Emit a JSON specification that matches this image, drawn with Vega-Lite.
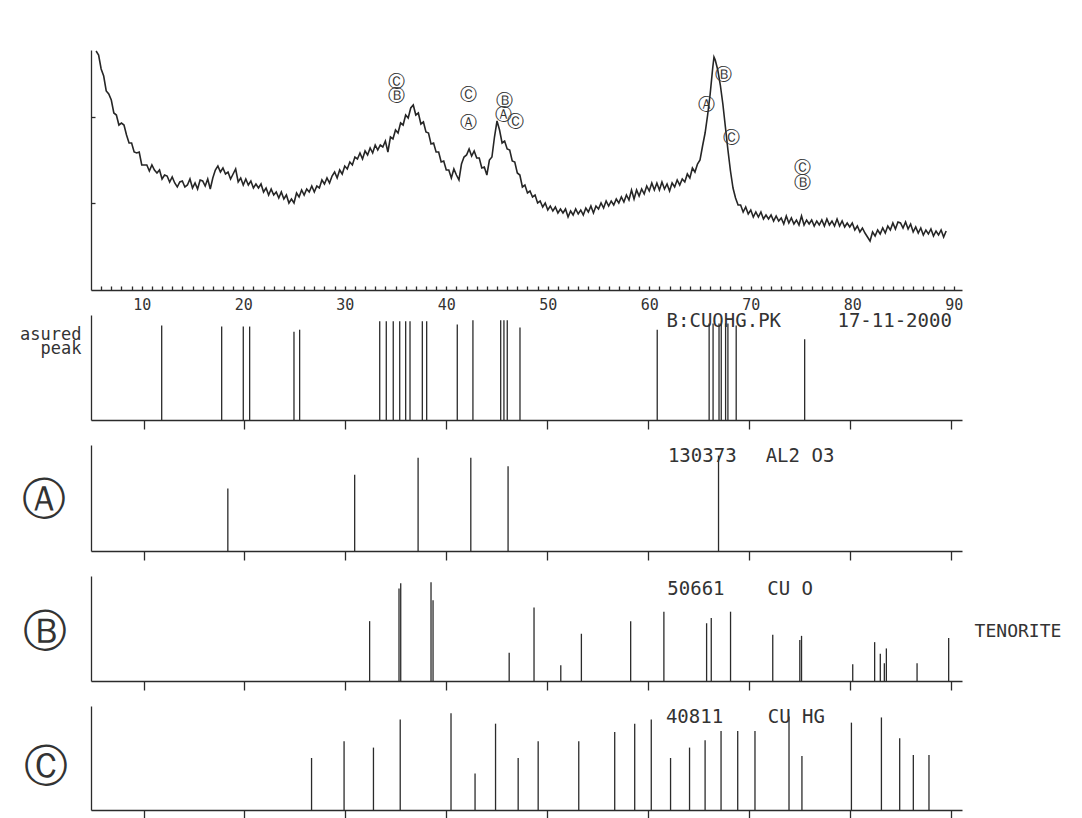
{
  "$schema": "https://vega.github.io/schema/vega-lite/v6.json",
  "background": "white",
  "padding": {"left": 19, "top": 50, "right": 0, "bottom": 0},
  "bounds": "flush",
  "spacing": 25,
  "config": {
    "view": {"stroke": null},
    "axis": {
      "grid": false,
      "domainColor": "#2b2b2b",
      "domainWidth": 1.3,
      "tickColor": "#2b2b2b",
      "tickWidth": 1.3,
      "labelColor": "#333333",
      "titleColor": "#333333",
      "labelFont": "DejaVu Sans Mono",
      "titleFont": "DejaVu Sans Mono",
      "titleFontWeight": "normal"
    }
  },
  "datasets": {
    "scan": [
      {"two_theta": 5.5, "intensity": 239}, {"two_theta": 5.75, "intensity": 235}, {"two_theta": 6, "intensity": 221}, {"two_theta": 6.25, "intensity": 214},
      {"two_theta": 6.5, "intensity": 199}, {"two_theta": 6.75, "intensity": 196}, {"two_theta": 7, "intensity": 190}, {"two_theta": 7.25, "intensity": 177},
      {"two_theta": 7.5, "intensity": 175}, {"two_theta": 7.75, "intensity": 165}, {"two_theta": 8, "intensity": 167}, {"two_theta": 8.25, "intensity": 165},
      {"two_theta": 8.5, "intensity": 155}, {"two_theta": 8.75, "intensity": 147}, {"two_theta": 9, "intensity": 147}, {"two_theta": 9.25, "intensity": 138},
      {"two_theta": 9.5, "intensity": 137}, {"two_theta": 9.75, "intensity": 138}, {"two_theta": 10, "intensity": 125}, {"two_theta": 10.25, "intensity": 125},
      {"two_theta": 10.5, "intensity": 125}, {"two_theta": 10.75, "intensity": 119}, {"two_theta": 11, "intensity": 125}, {"two_theta": 11.25, "intensity": 120},
      {"two_theta": 11.5, "intensity": 117}, {"two_theta": 11.75, "intensity": 120}, {"two_theta": 12, "intensity": 111}, {"two_theta": 12.25, "intensity": 115},
      {"two_theta": 12.5, "intensity": 114}, {"two_theta": 12.75, "intensity": 108}, {"two_theta": 13, "intensity": 113}, {"two_theta": 13.25, "intensity": 107},
      {"two_theta": 13.5, "intensity": 103}, {"two_theta": 13.75, "intensity": 108}, {"two_theta": 14, "intensity": 109}, {"two_theta": 14.25, "intensity": 103},
      {"two_theta": 14.5, "intensity": 105}, {"two_theta": 14.75, "intensity": 111}, {"two_theta": 15, "intensity": 102}, {"two_theta": 15.25, "intensity": 107},
      {"two_theta": 15.5, "intensity": 101}, {"two_theta": 15.75, "intensity": 110}, {"two_theta": 16, "intensity": 109}, {"two_theta": 16.25, "intensity": 104},
      {"two_theta": 16.5, "intensity": 111}, {"two_theta": 16.75, "intensity": 101}, {"two_theta": 17, "intensity": 112}, {"two_theta": 17.25, "intensity": 120},
      {"two_theta": 17.5, "intensity": 124}, {"two_theta": 17.75, "intensity": 118}, {"two_theta": 18, "intensity": 122}, {"two_theta": 18.25, "intensity": 116},
      {"two_theta": 18.5, "intensity": 118}, {"two_theta": 18.75, "intensity": 111}, {"two_theta": 19, "intensity": 116}, {"two_theta": 19.25, "intensity": 121},
      {"two_theta": 19.5, "intensity": 108}, {"two_theta": 19.75, "intensity": 112}, {"two_theta": 20, "intensity": 105}, {"two_theta": 20.25, "intensity": 111},
      {"two_theta": 20.5, "intensity": 105}, {"two_theta": 20.75, "intensity": 109}, {"two_theta": 21, "intensity": 102}, {"two_theta": 21.25, "intensity": 106},
      {"two_theta": 21.5, "intensity": 102}, {"two_theta": 21.75, "intensity": 106}, {"two_theta": 22, "intensity": 98}, {"two_theta": 22.25, "intensity": 102},
      {"two_theta": 22.5, "intensity": 95}, {"two_theta": 22.75, "intensity": 101}, {"two_theta": 23, "intensity": 95}, {"two_theta": 23.25, "intensity": 98},
      {"two_theta": 23.5, "intensity": 92}, {"two_theta": 23.75, "intensity": 98}, {"two_theta": 24, "intensity": 91}, {"two_theta": 24.25, "intensity": 95},
      {"two_theta": 24.5, "intensity": 87}, {"two_theta": 24.75, "intensity": 91}, {"two_theta": 25, "intensity": 87}, {"two_theta": 25.25, "intensity": 97},
      {"two_theta": 25.5, "intensity": 93}, {"two_theta": 25.75, "intensity": 100}, {"two_theta": 26, "intensity": 95}, {"two_theta": 26.25, "intensity": 101},
      {"two_theta": 26.5, "intensity": 98}, {"two_theta": 26.75, "intensity": 104}, {"two_theta": 27, "intensity": 98}, {"two_theta": 27.25, "intensity": 104},
      {"two_theta": 27.5, "intensity": 102}, {"two_theta": 27.75, "intensity": 110}, {"two_theta": 28, "intensity": 106}, {"two_theta": 28.25, "intensity": 112},
      {"two_theta": 28.5, "intensity": 107}, {"two_theta": 28.75, "intensity": 114}, {"two_theta": 29, "intensity": 118}, {"two_theta": 29.25, "intensity": 112},
      {"two_theta": 29.5, "intensity": 120}, {"two_theta": 29.75, "intensity": 116}, {"two_theta": 30, "intensity": 124}, {"two_theta": 30.25, "intensity": 121},
      {"two_theta": 30.5, "intensity": 128}, {"two_theta": 30.75, "intensity": 125}, {"two_theta": 31, "intensity": 133}, {"two_theta": 31.25, "intensity": 131},
      {"two_theta": 31.5, "intensity": 137}, {"two_theta": 31.75, "intensity": 131}, {"two_theta": 32, "intensity": 139}, {"two_theta": 32.25, "intensity": 135},
      {"two_theta": 32.5, "intensity": 142}, {"two_theta": 32.75, "intensity": 137}, {"two_theta": 33, "intensity": 145}, {"two_theta": 33.25, "intensity": 140},
      {"two_theta": 33.5, "intensity": 145}, {"two_theta": 33.75, "intensity": 143}, {"two_theta": 34, "intensity": 149}, {"two_theta": 34.25, "intensity": 138},
      {"two_theta": 34.5, "intensity": 153}, {"two_theta": 34.75, "intensity": 151}, {"two_theta": 35, "intensity": 160}, {"two_theta": 35.25, "intensity": 157},
      {"two_theta": 35.5, "intensity": 167}, {"two_theta": 35.75, "intensity": 165}, {"two_theta": 36, "intensity": 175}, {"two_theta": 36.25, "intensity": 172},
      {"two_theta": 36.5, "intensity": 182}, {"two_theta": 36.75, "intensity": 185}, {"two_theta": 37, "intensity": 175}, {"two_theta": 37.25, "intensity": 177},
      {"two_theta": 37.5, "intensity": 166}, {"two_theta": 37.75, "intensity": 168}, {"two_theta": 38, "intensity": 158}, {"two_theta": 38.25, "intensity": 157},
      {"two_theta": 38.5, "intensity": 146}, {"two_theta": 38.75, "intensity": 147}, {"two_theta": 39, "intensity": 138}, {"two_theta": 39.25, "intensity": 138},
      {"two_theta": 39.5, "intensity": 128}, {"two_theta": 39.75, "intensity": 129}, {"two_theta": 40, "intensity": 120}, {"two_theta": 40.25, "intensity": 120},
      {"two_theta": 40.5, "intensity": 112}, {"two_theta": 40.75, "intensity": 121}, {"two_theta": 41, "intensity": 115}, {"two_theta": 41.25, "intensity": 110},
      {"two_theta": 41.5, "intensity": 126}, {"two_theta": 41.75, "intensity": 133}, {"two_theta": 42, "intensity": 135}, {"two_theta": 42.25, "intensity": 141},
      {"two_theta": 42.5, "intensity": 134}, {"two_theta": 42.75, "intensity": 139}, {"two_theta": 43, "intensity": 132}, {"two_theta": 43.25, "intensity": 132},
      {"two_theta": 43.5, "intensity": 122}, {"two_theta": 43.75, "intensity": 123}, {"two_theta": 44, "intensity": 115}, {"two_theta": 44.25, "intensity": 130},
      {"two_theta": 44.5, "intensity": 133}, {"two_theta": 44.75, "intensity": 153}, {"two_theta": 45, "intensity": 169}, {"two_theta": 45.25, "intensity": 160},
      {"two_theta": 45.5, "intensity": 147}, {"two_theta": 45.75, "intensity": 149}, {"two_theta": 46, "intensity": 141}, {"two_theta": 46.25, "intensity": 140},
      {"two_theta": 46.5, "intensity": 129}, {"two_theta": 46.75, "intensity": 128}, {"two_theta": 47, "intensity": 117}, {"two_theta": 47.25, "intensity": 115},
      {"two_theta": 47.5, "intensity": 103}, {"two_theta": 47.75, "intensity": 105}, {"two_theta": 48, "intensity": 97}, {"two_theta": 48.25, "intensity": 99},
      {"two_theta": 48.5, "intensity": 93}, {"two_theta": 48.75, "intensity": 95}, {"two_theta": 49, "intensity": 87}, {"two_theta": 49.25, "intensity": 89},
      {"two_theta": 49.5, "intensity": 83}, {"two_theta": 49.75, "intensity": 87}, {"two_theta": 50, "intensity": 80}, {"two_theta": 50.25, "intensity": 84},
      {"two_theta": 50.5, "intensity": 79}, {"two_theta": 50.75, "intensity": 83}, {"two_theta": 51, "intensity": 77}, {"two_theta": 51.25, "intensity": 81},
      {"two_theta": 51.5, "intensity": 77}, {"two_theta": 51.75, "intensity": 81}, {"two_theta": 52, "intensity": 73}, {"two_theta": 52.25, "intensity": 79},
      {"two_theta": 52.5, "intensity": 75}, {"two_theta": 52.75, "intensity": 81}, {"two_theta": 53, "intensity": 76}, {"two_theta": 53.25, "intensity": 80},
      {"two_theta": 53.5, "intensity": 75}, {"two_theta": 53.75, "intensity": 82}, {"two_theta": 54, "intensity": 78}, {"two_theta": 54.25, "intensity": 84},
      {"two_theta": 54.5, "intensity": 77}, {"two_theta": 54.75, "intensity": 84}, {"two_theta": 55, "intensity": 81}, {"two_theta": 55.25, "intensity": 87},
      {"two_theta": 55.5, "intensity": 82}, {"two_theta": 55.75, "intensity": 89}, {"two_theta": 56, "intensity": 84}, {"two_theta": 56.25, "intensity": 89},
      {"two_theta": 56.5, "intensity": 85}, {"two_theta": 56.75, "intensity": 91}, {"two_theta": 57, "intensity": 87}, {"two_theta": 57.25, "intensity": 93},
      {"two_theta": 57.5, "intensity": 88}, {"two_theta": 57.75, "intensity": 95}, {"two_theta": 58, "intensity": 90}, {"two_theta": 58.25, "intensity": 100},
      {"two_theta": 58.5, "intensity": 91}, {"two_theta": 58.75, "intensity": 100}, {"two_theta": 59, "intensity": 94}, {"two_theta": 59.25, "intensity": 101},
      {"two_theta": 59.5, "intensity": 96}, {"two_theta": 59.75, "intensity": 104}, {"two_theta": 60, "intensity": 99}, {"two_theta": 60.25, "intensity": 107},
      {"two_theta": 60.5, "intensity": 100}, {"two_theta": 60.75, "intensity": 107}, {"two_theta": 61, "intensity": 100}, {"two_theta": 61.25, "intensity": 108},
      {"two_theta": 61.5, "intensity": 101}, {"two_theta": 61.75, "intensity": 106}, {"two_theta": 62, "intensity": 99}, {"two_theta": 62.25, "intensity": 107},
      {"two_theta": 62.5, "intensity": 103}, {"two_theta": 62.75, "intensity": 110}, {"two_theta": 63, "intensity": 105}, {"two_theta": 63.25, "intensity": 111},
      {"two_theta": 63.5, "intensity": 108}, {"two_theta": 63.75, "intensity": 116}, {"two_theta": 64, "intensity": 112}, {"two_theta": 64.25, "intensity": 122},
      {"two_theta": 64.5, "intensity": 118}, {"two_theta": 64.75, "intensity": 126}, {"two_theta": 65, "intensity": 130}, {"two_theta": 65.25, "intensity": 144},
      {"two_theta": 65.5, "intensity": 157}, {"two_theta": 65.75, "intensity": 175}, {"two_theta": 66, "intensity": 196}, {"two_theta": 66.25, "intensity": 222},
      {"two_theta": 66.375, "intensity": 233}, {"two_theta": 66.5, "intensity": 230}, {"two_theta": 66.75, "intensity": 220}, {"two_theta": 67, "intensity": 205},
      {"two_theta": 67.25, "intensity": 186}, {"two_theta": 67.5, "intensity": 163}, {"two_theta": 67.75, "intensity": 140}, {"two_theta": 68, "intensity": 119},
      {"two_theta": 68.25, "intensity": 102}, {"two_theta": 68.5, "intensity": 92}, {"two_theta": 68.75, "intensity": 85}, {"two_theta": 69, "intensity": 85},
      {"two_theta": 69.25, "intensity": 78}, {"two_theta": 69.5, "intensity": 83}, {"two_theta": 69.75, "intensity": 76}, {"two_theta": 70, "intensity": 80},
      {"two_theta": 70.25, "intensity": 73}, {"two_theta": 70.5, "intensity": 78}, {"two_theta": 70.75, "intensity": 73}, {"two_theta": 71, "intensity": 78},
      {"two_theta": 71.25, "intensity": 71}, {"two_theta": 71.5, "intensity": 75}, {"two_theta": 71.75, "intensity": 71}, {"two_theta": 72, "intensity": 75},
      {"two_theta": 72.25, "intensity": 69}, {"two_theta": 72.5, "intensity": 74}, {"two_theta": 72.75, "intensity": 69}, {"two_theta": 73, "intensity": 72},
      {"two_theta": 73.25, "intensity": 66}, {"two_theta": 73.5, "intensity": 74}, {"two_theta": 73.75, "intensity": 67}, {"two_theta": 74, "intensity": 72},
      {"two_theta": 74.25, "intensity": 66}, {"two_theta": 74.5, "intensity": 70}, {"two_theta": 74.75, "intensity": 65}, {"two_theta": 75, "intensity": 74},
      {"two_theta": 75.25, "intensity": 65}, {"two_theta": 75.5, "intensity": 70}, {"two_theta": 75.75, "intensity": 66}, {"two_theta": 76, "intensity": 70},
      {"two_theta": 76.25, "intensity": 64}, {"two_theta": 76.5, "intensity": 69}, {"two_theta": 76.75, "intensity": 65}, {"two_theta": 77, "intensity": 70},
      {"two_theta": 77.25, "intensity": 64}, {"two_theta": 77.5, "intensity": 71}, {"two_theta": 77.75, "intensity": 65}, {"two_theta": 78, "intensity": 69},
      {"two_theta": 78.25, "intensity": 64}, {"two_theta": 78.5, "intensity": 71}, {"two_theta": 78.75, "intensity": 64}, {"two_theta": 79, "intensity": 69},
      {"two_theta": 79.25, "intensity": 63}, {"two_theta": 79.5, "intensity": 67}, {"two_theta": 79.75, "intensity": 63}, {"two_theta": 80, "intensity": 67},
      {"two_theta": 80.25, "intensity": 60}, {"two_theta": 80.5, "intensity": 64}, {"two_theta": 80.75, "intensity": 58}, {"two_theta": 81, "intensity": 62},
      {"two_theta": 81.25, "intensity": 57}, {"two_theta": 81.5, "intensity": 53}, {"two_theta": 81.75, "intensity": 49}, {"two_theta": 82, "intensity": 58},
      {"two_theta": 82.25, "intensity": 54}, {"two_theta": 82.5, "intensity": 60}, {"two_theta": 82.75, "intensity": 56}, {"two_theta": 83, "intensity": 62},
      {"two_theta": 83.25, "intensity": 57}, {"two_theta": 83.5, "intensity": 64}, {"two_theta": 83.75, "intensity": 60}, {"two_theta": 84, "intensity": 67},
      {"two_theta": 84.25, "intensity": 61}, {"two_theta": 84.5, "intensity": 68}, {"two_theta": 84.75, "intensity": 67}, {"two_theta": 85, "intensity": 62},
      {"two_theta": 85.25, "intensity": 68}, {"two_theta": 85.5, "intensity": 61}, {"two_theta": 85.75, "intensity": 66}, {"two_theta": 86, "intensity": 58},
      {"two_theta": 86.25, "intensity": 63}, {"two_theta": 86.5, "intensity": 57}, {"two_theta": 86.75, "intensity": 62}, {"two_theta": 87, "intensity": 55},
      {"two_theta": 87.25, "intensity": 60}, {"two_theta": 87.5, "intensity": 56}, {"two_theta": 87.75, "intensity": 61}, {"two_theta": 88, "intensity": 54},
      {"two_theta": 88.25, "intensity": 59}, {"two_theta": 88.5, "intensity": 55}, {"two_theta": 88.75, "intensity": 60}, {"two_theta": 89, "intensity": 53},
      {"two_theta": 89.25, "intensity": 59}
    ],
    "phase_marks": [
      {"two_theta": 35.05, "intensity": 208, "label": "Ⓒ"},
      {"two_theta": 35.05, "intensity": 194, "label": "Ⓑ"},
      {"two_theta": 42.24, "intensity": 195, "label": "Ⓒ"},
      {"two_theta": 42.24, "intensity": 167, "label": "Ⓐ"},
      {"two_theta": 45.69, "intensity": 189, "label": "Ⓑ"},
      {"two_theta": 45.59, "intensity": 175, "label": "Ⓐ"},
      {"two_theta": 46.87, "intensity": 168, "label": "Ⓒ"},
      {"two_theta": 65.59, "intensity": 185, "label": "Ⓐ"},
      {"two_theta": 67.27, "intensity": 215, "label": "Ⓑ"},
      {"two_theta": 68.15, "intensity": 152, "label": "Ⓒ"},
      {"two_theta": 75.05, "intensity": 122, "label": "Ⓒ"},
      {"two_theta": 75.05, "intensity": 107, "label": "Ⓑ"}
    ],
    "peaks": [
      {"panel": "measured", "two_theta": 11.8, "rel": 90}, {"panel": "measured", "two_theta": 17.74, "rel": 89},
      {"panel": "measured", "two_theta": 19.88, "rel": 89}, {"panel": "measured", "two_theta": 20.51, "rel": 89},
      {"panel": "measured", "two_theta": 24.9, "rel": 84}, {"panel": "measured", "two_theta": 25.46, "rel": 86},
      {"panel": "measured", "two_theta": 33.39, "rel": 94}, {"panel": "measured", "two_theta": 34.04, "rel": 94},
      {"panel": "measured", "two_theta": 34.73, "rel": 94}, {"panel": "measured", "two_theta": 35.37, "rel": 94},
      {"panel": "measured", "two_theta": 35.96, "rel": 94}, {"panel": "measured", "two_theta": 36.39, "rel": 94},
      {"panel": "measured", "two_theta": 37.61, "rel": 94}, {"panel": "measured", "two_theta": 38.04, "rel": 94},
      {"panel": "measured", "two_theta": 41.07, "rel": 91}, {"panel": "measured", "two_theta": 42.62, "rel": 95},
      {"panel": "measured", "two_theta": 45.37, "rel": 95}, {"panel": "measured", "two_theta": 45.69, "rel": 95},
      {"panel": "measured", "two_theta": 46.02, "rel": 95}, {"panel": "measured", "two_theta": 47.28, "rel": 88},
      {"panel": "measured", "two_theta": 60.87, "rel": 86}, {"panel": "measured", "two_theta": 66.01, "rel": 92},
      {"panel": "measured", "two_theta": 66.4, "rel": 92}, {"panel": "measured", "two_theta": 66.99, "rel": 92},
      {"panel": "measured", "two_theta": 67.21, "rel": 92}, {"panel": "measured", "two_theta": 67.64, "rel": 92},
      {"panel": "measured", "two_theta": 67.87, "rel": 92}, {"panel": "measured", "two_theta": 68.69, "rel": 90},
      {"panel": "measured", "two_theta": 75.47, "rel": 77},
      {"panel": "A", "two_theta": 18.35, "rel": 59}, {"panel": "A", "two_theta": 30.91, "rel": 72},
      {"panel": "A", "two_theta": 37.19, "rel": 88}, {"panel": "A", "two_theta": 42.41, "rel": 88},
      {"panel": "A", "two_theta": 46.1, "rel": 80}, {"panel": "A", "two_theta": 66.94, "rel": 90},
      {"panel": "B", "two_theta": 32.39, "rel": 57}, {"panel": "B", "two_theta": 35.3, "rel": 88},
      {"panel": "B", "two_theta": 35.47, "rel": 93}, {"panel": "B", "two_theta": 38.47, "rel": 94},
      {"panel": "B", "two_theta": 38.67, "rel": 77}, {"panel": "B", "two_theta": 46.21, "rel": 27},
      {"panel": "B", "two_theta": 48.67, "rel": 70}, {"panel": "B", "two_theta": 51.32, "rel": 15},
      {"panel": "B", "two_theta": 53.36, "rel": 45}, {"panel": "B", "two_theta": 58.24, "rel": 57},
      {"panel": "B", "two_theta": 61.53, "rel": 66}, {"panel": "B", "two_theta": 65.76, "rel": 55},
      {"panel": "B", "two_theta": 66.22, "rel": 60}, {"panel": "B", "two_theta": 68.13, "rel": 66},
      {"panel": "B", "two_theta": 72.31, "rel": 44}, {"panel": "B", "two_theta": 74.99, "rel": 39},
      {"panel": "B", "two_theta": 75.16, "rel": 43}, {"panel": "B", "two_theta": 80.23, "rel": 16},
      {"panel": "B", "two_theta": 82.4, "rel": 37}, {"panel": "B", "two_theta": 82.96, "rel": 26},
      {"panel": "B", "two_theta": 83.36, "rel": 17}, {"panel": "B", "two_theta": 83.56, "rel": 31},
      {"panel": "B", "two_theta": 86.6, "rel": 17}, {"panel": "B", "two_theta": 89.73, "rel": 41},
      {"panel": "C", "two_theta": 26.64, "rel": 50}, {"panel": "C", "two_theta": 29.86, "rel": 66},
      {"panel": "C", "two_theta": 32.77, "rel": 60}, {"panel": "C", "two_theta": 35.42, "rel": 87},
      {"panel": "C", "two_theta": 40.45, "rel": 93}, {"panel": "C", "two_theta": 42.83, "rel": 35},
      {"panel": "C", "two_theta": 44.86, "rel": 83}, {"panel": "C", "two_theta": 47.1, "rel": 50},
      {"panel": "C", "two_theta": 49.08, "rel": 66}, {"panel": "C", "two_theta": 53.1, "rel": 66},
      {"panel": "C", "two_theta": 56.66, "rel": 75}, {"panel": "C", "two_theta": 58.64, "rel": 83},
      {"panel": "C", "two_theta": 60.28, "rel": 87}, {"panel": "C", "two_theta": 62.19, "rel": 50},
      {"panel": "C", "two_theta": 64.07, "rel": 60}, {"panel": "C", "two_theta": 65.61, "rel": 67},
      {"panel": "C", "two_theta": 67.19, "rel": 76}, {"panel": "C", "two_theta": 68.84, "rel": 76},
      {"panel": "C", "two_theta": 70.55, "rel": 76}, {"panel": "C", "two_theta": 73.92, "rel": 90},
      {"panel": "C", "two_theta": 75.2, "rel": 52}, {"panel": "C", "two_theta": 80.1, "rel": 84},
      {"panel": "C", "two_theta": 83.07, "rel": 89}, {"panel": "C", "two_theta": 84.88, "rel": 69},
      {"panel": "C", "two_theta": 86.23, "rel": 53}, {"panel": "C", "two_theta": 87.78, "rel": 53}
    ],
    "captions": [
      {"panel": "measured", "two_theta": 61.8, "label": "B:CUOHG.PK"},
      {"panel": "measured", "two_theta": 78.72, "label": "17-11-2000"},
      {"panel": "A", "two_theta": 61.93, "label": "130373"},
      {"panel": "A", "two_theta": 71.61, "label": "AL2 O3"},
      {"panel": "B", "two_theta": 61.87, "label": "50661"},
      {"panel": "B", "two_theta": 71.76, "label": "CU O"},
      {"panel": "C", "two_theta": 61.73, "label": "40811"},
      {"panel": "C", "two_theta": 71.81, "label": "CU HG"}
    ],
    "phase_names": [
      {"panel": "B", "two_theta": 92.3, "rel": 47, "label": "TENORITE"}
    ]
  },
  "vconcat": [
    {
      "width": 871,
      "height": 240,
      "resolve": {"axis": {"x": "independent", "y": "independent"}},
      "layer": [
        {
          "data": {"name": "scan"},
          "mark": {"type": "line", "color": "#262626", "strokeWidth": 1.6, "clip": true},
          "encoding": {
            "x": {
              "field": "two_theta", "type": "quantitative",
              "scale": {"domain": [5, 90.81], "nice": false, "zero": false},
              "axis": {
                "orient": "bottom",
                "title": null,
                "values": [6, 7, 8, 9, 10, 11, 12, 13, 14, 15, 16, 17, 18, 19, 20, 21, 22, 23, 24, 25, 26, 27, 28, 29, 30, 31, 32, 33, 34, 35, 36, 37, 38, 39, 40, 41, 42, 43, 44, 45, 46, 47, 48, 49, 50, 51, 52, 53, 54, 55, 56, 57, 58, 59, 60, 61, 62, 63, 64, 65, 66, 67, 68, 69, 70, 71, 72, 73, 74, 75, 76, 77, 78, 79, 80, 81, 82, 83, 84, 85, 86, 87, 88, 89, 90],
                "labels": false,
                "domain": false,
                "tickSize": 4,
                "offset": -4
              }
            },
            "y": {
              "field": "intensity", "type": "quantitative",
              "scale": {"domain": [0, 240], "nice": false},
              "axis": {"orient": "left", "title": null, "labels": false, "ticks": false}
            }
          }
        },
        {
          "data": {"name": "phase_marks"},
          "mark": {"type": "text", "font": "DejaVu Sans", "fontSize": 17, "color": "#333333", "baseline": "middle"},
          "encoding": {
            "x": {
              "field": "two_theta", "type": "quantitative",
              "axis": {
                "orient": "bottom",
                "title": null,
                "values": [10, 20, 30, 40, 50, 60, 70, 80, 90],
                "domain": true,
                "ticks": false,
                "labelPadding": 7,
                "labelFontSize": 15,
                "labelFlush": false,
                "labelOverlap": false
              }
            },
            "y": {
              "field": "intensity", "type": "quantitative",
              "axis": {"orient": "left", "title": null, "labels": false, "domain": false, "values": [87, 173], "tickSize": 4, "offset": -4}
            },
            "text": {"field": "label"}
          }
        }
      ]
    },
    {
      "width": 871,
      "height": 105,
      "layer": [
        {
          "data": {"name": "peaks"},
          "transform": [{"filter": "datum.panel === 'measured'"}],
          "mark": {"type": "rule", "color": "#2b2b2b", "strokeWidth": 1.3},
          "encoding": {
            "x": {
              "field": "two_theta", "type": "quantitative",
              "scale": {"domain": [4.8, 91.05], "nice": false, "zero": false},
              "axis": {"title": null, "values": [10, 20, 30, 40, 50, 60, 70, 80, 90], "labels": false, "tickSize": 9}
            },
            "y": {
              "field": "rel", "type": "quantitative",
              "scale": {"domain": [0, 100], "nice": false},
              "axis": {
                "ticks": false, "labels": false,
                "title": ["asured", "peak"],
                "titleAngle": 0, "titleAlign": "right", "titleBaseline": "alphabetic",
                "titleX": -10, "titleY": 24, "titleFontSize": 17, "titleLineHeight": 14
              }
            },
            "y2": {"datum": 0}
          }
        },
        {
          "data": {"name": "captions"},
          "transform": [{"filter": "datum.panel === 'measured'"}],
          "mark": {"type": "text", "font": "DejaVu Sans Mono", "fontSize": 19, "color": "#333333", "align": "left", "baseline": "middle"},
          "encoding": {
            "x": {"field": "two_theta", "type": "quantitative"},
            "y": {"datum": 94},
            "text": {"field": "label"}
          }
        }
      ]
    },
    {
      "width": 871,
      "height": 106,
      "layer": [
        {
          "data": {"name": "peaks"},
          "transform": [{"filter": "datum.panel === 'A'"}],
          "mark": {"type": "rule", "color": "#2b2b2b", "strokeWidth": 1.3},
          "encoding": {
            "x": {
              "field": "two_theta", "type": "quantitative",
              "scale": {"domain": [4.8, 91.05], "nice": false, "zero": false},
              "axis": {"title": null, "values": [10, 20, 30, 40, 50, 60, 70, 80, 90], "labels": false, "tickSize": 9}
            },
            "y": {
              "field": "rel", "type": "quantitative",
              "scale": {"domain": [0, 100], "nice": false},
              "axis": {
                "ticks": false, "labels": false,
                "title": "Ⓐ", "titleFont": "DejaVu Sans", "titleFontSize": 44,
                "titleAngle": 0, "titleAlign": "center", "titleBaseline": "middle",
                "titleX": -48, "titleY": 55
              }
            },
            "y2": {"datum": 0}
          }
        },
        {
          "data": {"name": "captions"},
          "transform": [{"filter": "datum.panel === 'A'"}],
          "mark": {"type": "text", "font": "DejaVu Sans Mono", "fontSize": 19, "color": "#333333", "align": "left", "baseline": "middle"},
          "encoding": {
            "x": {"field": "two_theta", "type": "quantitative"},
            "y": {"datum": 90},
            "text": {"field": "label"}
          }
        }
      ]
    },
    {
      "width": 871,
      "height": 105,
      "layer": [
        {
          "data": {"name": "peaks"},
          "transform": [{"filter": "datum.panel === 'B'"}],
          "mark": {"type": "rule", "color": "#2b2b2b", "strokeWidth": 1.3},
          "encoding": {
            "x": {
              "field": "two_theta", "type": "quantitative",
              "scale": {"domain": [4.8, 91.05], "nice": false, "zero": false},
              "axis": {"title": null, "values": [10, 20, 30, 40, 50, 60, 70, 80, 90], "labels": false, "tickSize": 9}
            },
            "y": {
              "field": "rel", "type": "quantitative",
              "scale": {"domain": [0, 100], "nice": false},
              "axis": {
                "ticks": false, "labels": false,
                "title": "Ⓑ", "titleFont": "DejaVu Sans", "titleFontSize": 44,
                "titleAngle": 0, "titleAlign": "center", "titleBaseline": "middle",
                "titleX": -47, "titleY": 56
              }
            },
            "y2": {"datum": 0}
          }
        },
        {
          "data": {"name": "captions"},
          "transform": [{"filter": "datum.panel === 'B'"}],
          "mark": {"type": "text", "font": "DejaVu Sans Mono", "fontSize": 19, "color": "#333333", "align": "left", "baseline": "middle"},
          "encoding": {
            "x": {"field": "two_theta", "type": "quantitative"},
            "y": {"datum": 88},
            "text": {"field": "label"}
          }
        },
        {
          "data": {"name": "phase_names"},
          "mark": {"type": "text", "font": "DejaVu Sans Mono", "fontSize": 18, "color": "#333333", "align": "left", "baseline": "middle", "clip": false},
          "encoding": {
            "x": {"field": "two_theta", "type": "quantitative"},
            "y": {"field": "rel", "type": "quantitative"},
            "text": {"field": "label"}
          }
        }
      ]
    },
    {
      "width": 871,
      "height": 104,
      "layer": [
        {
          "data": {"name": "peaks"},
          "transform": [{"filter": "datum.panel === 'C'"}],
          "mark": {"type": "rule", "color": "#2b2b2b", "strokeWidth": 1.3},
          "encoding": {
            "x": {
              "field": "two_theta", "type": "quantitative",
              "scale": {"domain": [4.8, 91.05], "nice": false, "zero": false},
              "axis": {"title": null, "values": [10, 20, 30, 40, 50, 60, 70, 80, 90], "labels": false, "tickSize": 9}
            },
            "y": {
              "field": "rel", "type": "quantitative",
              "scale": {"domain": [0, 100], "nice": false},
              "axis": {
                "ticks": false, "labels": false,
                "title": "Ⓒ", "titleFont": "DejaVu Sans", "titleFontSize": 44,
                "titleAngle": 0, "titleAlign": "center", "titleBaseline": "middle",
                "titleX": -46, "titleY": 61
              }
            },
            "y2": {"datum": 0}
          }
        },
        {
          "data": {"name": "captions"},
          "transform": [{"filter": "datum.panel === 'C'"}],
          "mark": {"type": "text", "font": "DejaVu Sans Mono", "fontSize": 19, "color": "#333333", "align": "left", "baseline": "middle"},
          "encoding": {
            "x": {"field": "two_theta", "type": "quantitative"},
            "y": {"datum": 89},
            "text": {"field": "label"}
          }
        }
      ]
    }
  ]
}
